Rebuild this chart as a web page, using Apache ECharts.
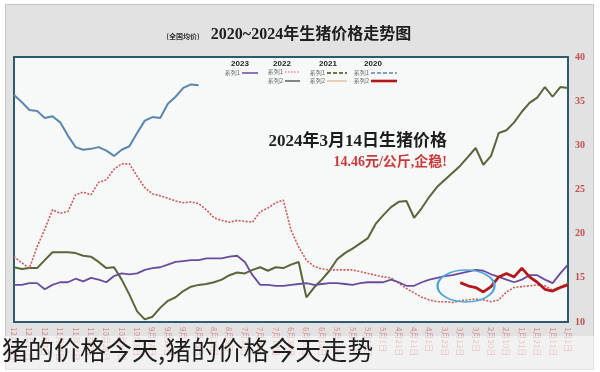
<!DOCTYPE html>
<html><head><meta charset="utf-8">
<script src="https://cdn.jsdelivr.net/npm/echarts@6/dist/echarts.min.js"></script>
<style>
html,body{margin:0;padding:0;background:#fff;}
#wrap{position:relative;width:600px;height:372px;overflow:hidden;}
#panel{position:absolute;left:5px;top:4px;width:589px;height:366px;background:#e2e2e2;border:1px solid #c6c6c6;box-sizing:border-box;}
#chart{position:absolute;left:0;top:0;width:600px;height:372px;}
</style></head><body>
<div id="wrap"><div id="panel"></div><div id="chart"></div></div>
<script>
const categories = ['1月1日','1月6日','1月11日','1月16日','1月21日','1月26日','1月31日',
 '2月5日','2月10日','2月15日','2月20日','2月25日',
 '3月2日','3月7日','3月12日','3月17日','3月22日','3月27日',
 '4月1日','4月6日','4月11日','4月16日','4月21日','4月26日',
 '5月1日','5月6日','5月11日','5月16日','5月21日','5月26日','5月31日',
 '6月5日','6月10日','6月15日','6月20日','6月25日','6月30日',
 '7月5日','7月10日','7月15日','7月20日','7月25日','7月30日',
 '8月4日','8月9日','8月14日','8月19日','8月24日','8月29日',
 '9月3日','9月8日','9月13日','9月18日','9月23日','9月28日',
 '10月3日','10月8日','10月13日','10月18日','10月23日','10月28日',
 '11月2日','11月7日','11月12日','11月17日','11月22日','11月27日',
 '12月2日','12月7日','12月12日','12月17日','12月22日','12月27日'];

const s2020 = [null,null,null,null,null,null,null,null,null,null,
 null,null,null,null,null,null,null,null,null,null,
 null,null,null,null,null,null,null,null,null,null,
 null,null,null,null,null,null,null,null,null,null,
 null,null,null,null,null,null,null,null,
 36.8,36.9,36.5,35.5,34.7,33.1,33.2,32.8,31.4,29.9,
 29.5,28.8,29.4,29.8,29.6,29.5,29.8,31.1,32.6,33.3,
 33.1,33.9,34.0,34.9,35.7];

const s2021 = [36.5,36.6,35.5,36.6,35.4,34.8,33.8,32.6,31.7,31.4,
 28.8,27.8,29.7,28.7,27.7,26.9,26.1,25.3,24.2,22.9,
 21.8,23.7,23.6,23.0,22.1,21.1,19.5,18.9,18.3,17.8,
 17.1,15.8,14.8,13.9,12.8,16.8,16.5,16.1,16.2,15.8,
 16.2,15.9,15.5,15.6,15.3,14.8,14.5,14.3,14.2,14.0,
 13.5,12.8,12.4,11.6,10.6,10.3,11.2,13.1,14.8,16.2,
 16.1,16.8,17.4,17.5,17.8,17.9,17.9,17.9,17.0,16.1,
 16.1,16.0,16.2];

const s2022 = [14.4,14.0,13.6,14.1,14.2,14.1,14.0,13.9,13.4,12.5,
 12.3,12.5,12.6,12.5,12.4,12.2,12.3,12.3,12.5,12.8,
 13.3,13.8,14.4,15.0,15.1,15.3,15.5,15.7,15.9,15.9,
 15.9,15.9,16.0,16.3,17.0,18.5,20.4,23.8,23.5,22.9,
 22.5,21.3,21.4,21.5,21.3,21.5,21.8,22.7,23.4,23.6,
 23.5,23.7,24.0,24.3,24.5,25.2,26.5,27.9,27.9,27.3,
 26.1,25.8,24.4,24.7,24.4,22.5,22.3,22.7,20.5,18.5,
 16.1,16.7,17.4];

const s2023 = [16.5,15.5,14.4,14.8,15.3,15.3,14.8,14.5,14.8,15.1,
 15.4,15.8,15.9,15.7,15.5,15.3,15.2,15.0,14.8,14.5,
 14.1,14.1,14.5,14.8,14.5,14.5,14.5,14.4,14.2,14.3,
 14.4,14.4,14.3,14.2,14.4,14.3,14.2,14.1,14.1,14.2,
 14.2,15.3,16.8,17.5,17.4,17.2,17.2,17.2,17.0,17.0,
 16.9,16.8,16.5,16.2,16.1,15.9,15.5,15.4,15.5,15.2,
 14.5,14.8,15.0,14.6,14.9,14.5,14.5,14.2,13.7,14.4,
 14.4,14.2,14.2];

const s2024 = [14.2,13.9,13.5,13.7,14.5,15.1,16.1,15.1,15.5,15.1,14.0,13.4,13.9,14.1,14.46];

const yTicks = {min:10, max:40, step:5};

const chart = echarts.init(document.getElementById('chart'), null, {renderer:'canvas'});

function legendText(x, y, t){
  return {type:'text', z:50, x:x, y:y, style:{text:t, fontSize:6, fontFamily:'Noto Sans CJK SC', fill:'#666', align:'right', textAlign:'right', verticalAlign:'middle', textVerticalAlign:'middle'}};
}
function legendHead(x, y, t){
  return {type:'text', z:50, x:x, y:y, style:{text:t, fontSize:8, fontWeight:'bold', fontFamily:'Liberation Sans', fill:'#222', align:'center', textAlign:'center', verticalAlign:'middle', textVerticalAlign:'middle'}};
}
function legendLine(x1, x2, y, color, w, dash){
  return {type:'line', z:50, shape:{x1:x1, y1:y, x2:x2, y2:y}, style:{stroke:color, lineWidth:w, lineDash:dash || null}};
}

chart.setOption({
  animation:false,
  backgroundColor:'transparent',
  grid:{left:14, right:32, top:57, bottom:50, show:true, backgroundColor:'#f7f8f8', borderColor:'#2f5a6e', borderWidth:2},
  xAxis:{type:'category', data:categories, boundaryGap:false, inverse:true,
    axisLine:{show:false}, axisTick:{show:false}, splitLine:{show:false},
    axisLabel:{interval:1, rotate:-90, color:'#d38c8c', fontSize:8, margin:5, fontFamily:'Noto Sans CJK SC'}},
  yAxis:{type:'value', position:'right', min:yTicks.min, max:yTicks.max, interval:yTicks.step,
    axisLine:{show:false}, axisTick:{show:false}, splitLine:{show:false},
    axisLabel:{color:'#c0504d', fontSize:10, margin:7, fontWeight:'bold', fontFamily:'Liberation Serif'}},
  series:[
    {name:'2020', type:'line', data:s2020, showSymbol:false, connectNulls:false, z:3,
      lineStyle:{color:'#5b87aa', width:2}, itemStyle:{color:'#5b87aa'}},
    {name:'2021', type:'line', data:s2021, showSymbol:false, z:3,
      lineStyle:{color:'#58663a', width:2}, itemStyle:{color:'#58663a'}},
    {name:'2022', type:'line', data:s2022, showSymbol:false, z:3,
      lineStyle:{color:'#cc5a5a', width:1.6, type:[2,1.5]}, itemStyle:{color:'#cc5a5a'}},
    {name:'2023', type:'line', data:s2023, showSymbol:false, z:4,
      lineStyle:{color:'#6a4c9c', width:1.8}, itemStyle:{color:'#6a4c9c'}},
    {name:'2024', type:'line', data:s2024, showSymbol:false, z:5,
      lineStyle:{color:'#b3191c', width:2.8}, itemStyle:{color:'#b3191c'}}
  ],
  graphic:[
    {type:'text', z:50, x:311, y:35, style:{text:'2020~2024年生猪价格走势图', fontSize:16, fontWeight:'bold', fontFamily:'Liberation Serif, Noto Sans CJK SC', fill:'#1d1d1d', align:'center', textAlign:'center', verticalAlign:'middle', textVerticalAlign:'middle'}},
    {type:'text', z:50, x:183, y:36, style:{text:'(全国均价)', fontSize:7, fontWeight:'bold', fontFamily:'Noto Sans CJK SC', fill:'#333', align:'center', textAlign:'center', verticalAlign:'middle', textVerticalAlign:'middle'}},
    legendHead(240, 64, '2023'),
    legendHead(282, 64, '2022'),
    legendHead(328, 64, '2021'),
    legendHead(373, 64, '2020'),
    legendText(240, 73, '系列1'), legendLine(242, 258, 73, '#6a4c9c', 1.5),
    legendText(283, 72, '系列1'), legendLine(285, 300, 72, '#cc5a5a', 1.2, [1.5,1.5]),
    legendText(283, 81, '系列2'), legendLine(285, 300, 81, '#3c4a3c', 1.3),
    legendText(325, 73, '系列1'), legendLine(327, 347, 73, '#6b7a3a', 2, [4,2]),
    legendText(325, 81, '系列2'), legendLine(327, 347, 81, '#e2b48a', 1.2),
    legendText(369, 73, '系列1'), legendLine(371, 397, 73, '#5b87aa', 1.5, [4,2]),
    legendText(369, 81, '系列2'), legendLine(371, 397, 81, '#b3191c', 2.6),
    {type:'text', z:50, x:447, y:142, style:{text:'2024年3月14日生猪价格', fontSize:17, fontWeight:'bold', fontFamily:'Liberation Serif, Noto Sans CJK SC', fill:'#1d1d1d', align:'right', textAlign:'right', verticalAlign:'middle', textVerticalAlign:'middle'}},
    {type:'text', z:50, x:447, y:162, style:{text:'14.46元/公斤,企稳!', fontSize:14, fontWeight:'bold', fontFamily:'Liberation Serif, Noto Sans CJK SC', fill:'#c83a3a', align:'right', textAlign:'right', verticalAlign:'middle', textVerticalAlign:'middle'}},
    {type:'circle', z:60, x:466, y:286, scaleY:0.56, shape:{cx:0, cy:0, r:28.5}, style:{fill:'none', stroke:'#4ea7d8', lineWidth:2.4}},
    {type:'rect', z:80, shape:{x:0, y:336, width:600, height:36}, style:{fill:'rgba(255,255,255,0.5)'}},
    {type:'text', z:90, x:2, y:350, style:{text:'猪的价格今天,猪的价格今天走势', fontSize:26, fontFamily:'Noto Sans CJK SC', fill:'#1e1e1e', align:'left', textAlign:'left', verticalAlign:'middle', textVerticalAlign:'middle'}}
  ]
});
</script>
</body></html>
